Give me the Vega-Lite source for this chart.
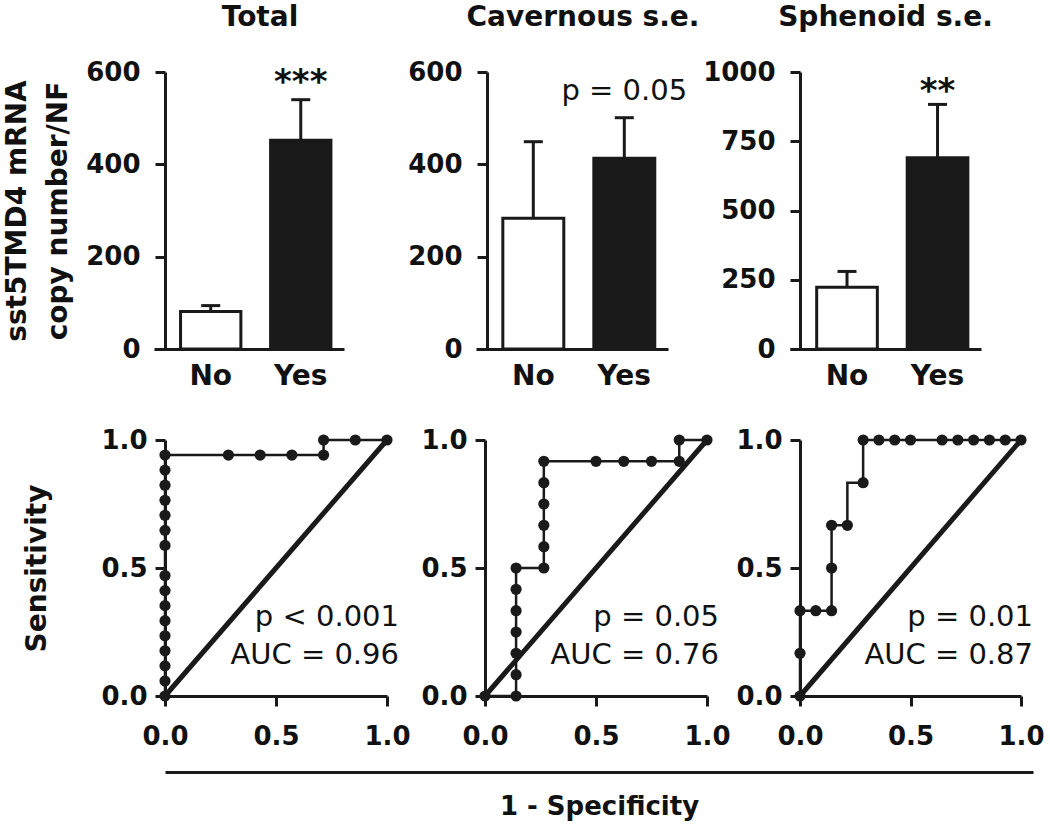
{
  "$schema": "https://vega.github.io/schema/vega-lite/v6.json",
  "padding": {"left": 3, "top": 4, "right": 5, "bottom": 5},
  "background": "white",
  "config": {
    "font": "DejaVu Sans",
    "view": {"stroke": null},
    "axis": {
      "grid": false,
      "labelFont": "DejaVu Sans",
      "labelFontWeight": "bold",
      "labelFontSize": 26,
      "labelColor": "#111111",
      "labelFlush": false,
      "labelOverlap": false,
      "titleFont": "DejaVu Sans",
      "titleFontWeight": "bold",
      "titleFontSize": 28,
      "titleColor": "#111111",
      "domainColor": "#1a1a1a",
      "domainWidth": 3,
      "tickColor": "#1a1a1a",
      "tickWidth": 3,
      "tickSize": 10
    }
  },
  "datasets": {
    "bars": [
      {"panel": "Total", "group": "No", "mean": 81, "upper": 94, "sig": ""},
      {"panel": "Total", "group": "Yes", "mean": 452, "upper": 540, "sig": "***"},
      {"panel": "Cavernous", "group": "No", "mean": 283, "upper": 449, "sig": ""},
      {"panel": "Cavernous", "group": "Yes", "mean": 413, "upper": 501, "sig": "p = 0.05"},
      {"panel": "Sphenoid", "group": "No", "mean": 223, "upper": 280, "sig": ""},
      {"panel": "Sphenoid", "group": "Yes", "mean": 690, "upper": 883, "sig": "**"}
    ],
    "diag": [{"fpr": 0, "sens": 0}, {"fpr": 1, "sens": 1}],
    "stats": [
      {"panel": "Total", "p": "p < 0.001", "auc": "AUC = 0.96"},
      {"panel": "Cavernous", "p": "p = 0.05", "auc": "AUC = 0.76"},
      {"panel": "Sphenoid", "p": "p = 0.01", "auc": "AUC = 0.87"}
    ],
    "roc": [
      {"panel": "Total", "ord": 0, "fpr": 0, "sens": 0, "pt": 1},
      {"panel": "Total", "ord": 1, "fpr": 0, "sens": 0.0588, "pt": 1},
      {"panel": "Total", "ord": 2, "fpr": 0, "sens": 0.1176, "pt": 1},
      {"panel": "Total", "ord": 3, "fpr": 0, "sens": 0.1765, "pt": 1},
      {"panel": "Total", "ord": 4, "fpr": 0, "sens": 0.2353, "pt": 1},
      {"panel": "Total", "ord": 5, "fpr": 0, "sens": 0.2941, "pt": 1},
      {"panel": "Total", "ord": 6, "fpr": 0, "sens": 0.3529, "pt": 1},
      {"panel": "Total", "ord": 7, "fpr": 0, "sens": 0.4118, "pt": 1},
      {"panel": "Total", "ord": 8, "fpr": 0, "sens": 0.4706, "pt": 1},
      {"panel": "Total", "ord": 9, "fpr": 0, "sens": 0.5882, "pt": 1},
      {"panel": "Total", "ord": 10, "fpr": 0, "sens": 0.6471, "pt": 1},
      {"panel": "Total", "ord": 11, "fpr": 0, "sens": 0.7059, "pt": 1},
      {"panel": "Total", "ord": 12, "fpr": 0, "sens": 0.7647, "pt": 1},
      {"panel": "Total", "ord": 13, "fpr": 0, "sens": 0.8235, "pt": 1},
      {"panel": "Total", "ord": 14, "fpr": 0, "sens": 0.8824, "pt": 1},
      {"panel": "Total", "ord": 15, "fpr": 0, "sens": 0.9412, "pt": 1},
      {"panel": "Total", "ord": 16, "fpr": 0.2857, "sens": 0.9412, "pt": 1},
      {"panel": "Total", "ord": 17, "fpr": 0.4286, "sens": 0.9412, "pt": 1},
      {"panel": "Total", "ord": 18, "fpr": 0.5714, "sens": 0.9412, "pt": 1},
      {"panel": "Total", "ord": 19, "fpr": 0.7143, "sens": 0.9412, "pt": 1},
      {"panel": "Total", "ord": 20, "fpr": 0.7143, "sens": 1, "pt": 1},
      {"panel": "Total", "ord": 21, "fpr": 0.8571, "sens": 1, "pt": 1},
      {"panel": "Total", "ord": 22, "fpr": 1, "sens": 1, "pt": 1},
      {"panel": "Cavernous", "ord": 0, "fpr": 0, "sens": 0, "pt": 1},
      {"panel": "Cavernous", "ord": 1, "fpr": 0.14, "sens": 0, "pt": 1},
      {"panel": "Cavernous", "ord": 2, "fpr": 0.14, "sens": 0.0833, "pt": 1},
      {"panel": "Cavernous", "ord": 3, "fpr": 0.14, "sens": 0.1667, "pt": 1},
      {"panel": "Cavernous", "ord": 4, "fpr": 0.14, "sens": 0.25, "pt": 1},
      {"panel": "Cavernous", "ord": 5, "fpr": 0.14, "sens": 0.3333, "pt": 1},
      {"panel": "Cavernous", "ord": 6, "fpr": 0.14, "sens": 0.4167, "pt": 1},
      {"panel": "Cavernous", "ord": 7, "fpr": 0.14, "sens": 0.5, "pt": 1},
      {"panel": "Cavernous", "ord": 8, "fpr": 0.265, "sens": 0.5, "pt": 1},
      {"panel": "Cavernous", "ord": 9, "fpr": 0.265, "sens": 0.5833, "pt": 1},
      {"panel": "Cavernous", "ord": 10, "fpr": 0.265, "sens": 0.6667, "pt": 1},
      {"panel": "Cavernous", "ord": 11, "fpr": 0.265, "sens": 0.75, "pt": 1},
      {"panel": "Cavernous", "ord": 12, "fpr": 0.265, "sens": 0.8333, "pt": 1},
      {"panel": "Cavernous", "ord": 13, "fpr": 0.265, "sens": 0.9167, "pt": 1},
      {"panel": "Cavernous", "ord": 14, "fpr": 0.5, "sens": 0.9167, "pt": 1},
      {"panel": "Cavernous", "ord": 15, "fpr": 0.625, "sens": 0.9167, "pt": 1},
      {"panel": "Cavernous", "ord": 16, "fpr": 0.75, "sens": 0.9167, "pt": 1},
      {"panel": "Cavernous", "ord": 17, "fpr": 0.875, "sens": 0.9167, "pt": 1},
      {"panel": "Cavernous", "ord": 18, "fpr": 0.875, "sens": 1, "pt": 1},
      {"panel": "Cavernous", "ord": 19, "fpr": 1, "sens": 1, "pt": 1},
      {"panel": "Sphenoid", "ord": 0, "fpr": 0, "sens": 0, "pt": 1},
      {"panel": "Sphenoid", "ord": 1, "fpr": 0, "sens": 0.1667, "pt": 1},
      {"panel": "Sphenoid", "ord": 2, "fpr": 0, "sens": 0.3333, "pt": 1},
      {"panel": "Sphenoid", "ord": 3, "fpr": 0.0714, "sens": 0.3333, "pt": 1},
      {"panel": "Sphenoid", "ord": 4, "fpr": 0.1429, "sens": 0.3333, "pt": 1},
      {"panel": "Sphenoid", "ord": 5, "fpr": 0.1429, "sens": 0.5, "pt": 1},
      {"panel": "Sphenoid", "ord": 6, "fpr": 0.1429, "sens": 0.6667, "pt": 1},
      {"panel": "Sphenoid", "ord": 7, "fpr": 0.2143, "sens": 0.6667, "pt": 1},
      {"panel": "Sphenoid", "ord": 8, "fpr": 0.2143, "sens": 0.8333, "pt": 0},
      {"panel": "Sphenoid", "ord": 9, "fpr": 0.2857, "sens": 0.8333, "pt": 1},
      {"panel": "Sphenoid", "ord": 10, "fpr": 0.2857, "sens": 1, "pt": 1},
      {"panel": "Sphenoid", "ord": 11, "fpr": 0.3571, "sens": 1, "pt": 1},
      {"panel": "Sphenoid", "ord": 12, "fpr": 0.4286, "sens": 1, "pt": 1},
      {"panel": "Sphenoid", "ord": 13, "fpr": 0.5, "sens": 1, "pt": 1},
      {"panel": "Sphenoid", "ord": 14, "fpr": 0.6429, "sens": 1, "pt": 1},
      {"panel": "Sphenoid", "ord": 15, "fpr": 0.7143, "sens": 1, "pt": 1},
      {"panel": "Sphenoid", "ord": 16, "fpr": 0.7857, "sens": 1, "pt": 1},
      {"panel": "Sphenoid", "ord": 17, "fpr": 0.8571, "sens": 1, "pt": 1},
      {"panel": "Sphenoid", "ord": 18, "fpr": 0.9286, "sens": 1, "pt": 1},
      {"panel": "Sphenoid", "ord": 19, "fpr": 1, "sens": 1, "pt": 1}
    ]
  },
  "columns": 3,
  "align": "each",
  "bounds": "flush",
  "spacing": {"row": 91, "column": 89},
  "concat": [
    {
      "width": 190, "height": 277,
      "title": {"text": "Total", "frame": "group", "anchor": "middle", "dx": 11, "offset": 5, "baseline": "alphabetic", "fontSize": 28, "fontWeight": "bold", "font": "DejaVu Sans", "color": "#111111"},
      "data": {"name": "bars"},
      "transform": [{"filter": "datum.panel === 'Total'"}],
      "encoding": {
        "x": {"field": "group", "type": "nominal", "sort": ["No", "Yes"], "scale": {"paddingInner": 0.33, "paddingOuter": 0.22, "align": 0.67}, "axis": {"title": null, "labelAngle": 0, "ticks": false, "tickSize": 0, "labelPadding": 13, "labelFontSize": 28}}
      },
      "layer": [
        {"mark": {"type": "bar", "stroke": "#1a1a1a", "strokeWidth": 3},
         "encoding": {
           "y": {"field": "mean", "type": "quantitative", "scale": {"domain": [0, 600]}, "axis": {"title": ["sst5TMD4 mRNA", "copy number/NF"], "values": [0, 200, 400, 600], "format": "d", "offset": -11, "labelPadding": 15, "titlePadding": 13, "titleLineHeight": 41, "encode": {"title": {"update": {"lineHeight": {"value": 41}}}}}},
           "fill": {"field": "group", "type": "nominal", "scale": {"domain": ["No", "Yes"], "range": ["#ffffff", "#1a1a1a"]}, "legend": null}}},
        {"mark": {"type": "rule", "strokeWidth": 3, "color": "#1a1a1a"},
         "encoding": {"y": {"field": "mean", "type": "quantitative"}, "y2": {"field": "upper"}}},
        {"mark": {"type": "tick", "size": 19, "thickness": 3, "color": "#1a1a1a", "opacity": 1},
         "encoding": {"y": {"field": "upper", "type": "quantitative"}}},
        {"transform": [{"filter": "datum.group === 'Yes'"}],
         "mark": {"type": "text", "fontSize": 34, "fontWeight": "bold", "baseline": "alphabetic", "align": "center", "color": "#111111"},
         "encoding": {"y": {"datum": 554}, "text": {"field": "sig"}}}
      ]
    },
    {
      "width": 192, "height": 277,
      "title": {"text": "Cavernous s.e.", "frame": "group", "anchor": "middle", "dx": 11, "offset": 5, "baseline": "alphabetic", "fontSize": 28, "fontWeight": "bold", "font": "DejaVu Sans", "color": "#111111"},
      "data": {"name": "bars"},
      "transform": [{"filter": "datum.panel === 'Cavernous'"}],
      "encoding": {
        "x": {"field": "group", "type": "nominal", "sort": ["No", "Yes"], "scale": {"paddingInner": 0.33, "paddingOuter": 0.22, "align": 0.67}, "axis": {"title": null, "labelAngle": 0, "ticks": false, "tickSize": 0, "labelPadding": 13, "labelFontSize": 28}}
      },
      "layer": [
        {"mark": {"type": "bar", "stroke": "#1a1a1a", "strokeWidth": 3},
         "encoding": {
           "y": {"field": "mean", "type": "quantitative", "scale": {"domain": [0, 600]}, "axis": {"title": null, "values": [0, 200, 400, 600], "format": "d", "offset": -11, "labelPadding": 15}},
           "fill": {"field": "group", "type": "nominal", "scale": {"domain": ["No", "Yes"], "range": ["#ffffff", "#1a1a1a"]}, "legend": null}}},
        {"mark": {"type": "rule", "strokeWidth": 3, "color": "#1a1a1a"},
         "encoding": {"y": {"field": "mean", "type": "quantitative"}, "y2": {"field": "upper"}}},
        {"mark": {"type": "tick", "size": 19, "thickness": 3, "color": "#1a1a1a", "opacity": 1},
         "encoding": {"y": {"field": "upper", "type": "quantitative"}}},
        {"transform": [{"filter": "datum.group === 'Yes'"}],
         "mark": {"type": "text", "fontSize": 29, "fontWeight": "normal", "baseline": "alphabetic", "align": "center", "color": "#111111"},
         "encoding": {"y": {"datum": 539}, "text": {"field": "sig"}}}
      ]
    },
    {
      "width": 191, "height": 277,
      "title": {"text": "Sphenoid s.e.", "frame": "group", "anchor": "middle", "dx": 0, "offset": 5, "baseline": "alphabetic", "fontSize": 28, "fontWeight": "bold", "font": "DejaVu Sans", "color": "#111111"},
      "data": {"name": "bars"},
      "transform": [{"filter": "datum.panel === 'Sphenoid'"}],
      "encoding": {
        "x": {"field": "group", "type": "nominal", "sort": ["No", "Yes"], "scale": {"paddingInner": 0.33, "paddingOuter": 0.22, "align": 0.67}, "axis": {"title": null, "labelAngle": 0, "ticks": false, "tickSize": 0, "labelPadding": 13, "labelFontSize": 28}}
      },
      "layer": [
        {"mark": {"type": "bar", "stroke": "#1a1a1a", "strokeWidth": 3},
         "encoding": {
           "y": {"field": "mean", "type": "quantitative", "scale": {"domain": [0, 1000]}, "axis": {"title": null, "values": [0, 250, 500, 750, 1000], "format": "d", "offset": -10, "labelPadding": 15}},
           "fill": {"field": "group", "type": "nominal", "scale": {"domain": ["No", "Yes"], "range": ["#ffffff", "#1a1a1a"]}, "legend": null}}},
        {"mark": {"type": "rule", "strokeWidth": 3, "color": "#1a1a1a"},
         "encoding": {"y": {"field": "mean", "type": "quantitative"}, "y2": {"field": "upper"}}},
        {"mark": {"type": "tick", "size": 19, "thickness": 3, "color": "#1a1a1a", "opacity": 1},
         "encoding": {"y": {"field": "upper", "type": "quantitative"}}},
        {"transform": [{"filter": "datum.group === 'Yes'"}],
         "mark": {"type": "text", "fontSize": 34, "fontWeight": "bold", "baseline": "alphabetic", "align": "center", "color": "#111111"},
         "encoding": {"y": {"datum": 890}, "text": {"field": "sig"}}}
      ]
    },
    {
      "width": 233, "height": 256,
      "layer": [
        {"data": {"name": "diag"}, "mark": {"type": "line", "strokeWidth": 5, "color": "#1a1a1a"},
         "encoding": {
           "x": {"field": "fpr", "type": "quantitative", "scale": {"domain": [0, 1], "range": [11, 233]}, "axis": {"title": null, "values": [0, 0.5, 1], "format": ".1f", "labelPadding": 17}},
           "y": {"field": "sens", "type": "quantitative", "scale": {"domain": [0, 1]}, "axis": {"title": "Sensitivity", "values": [0, 0.5, 1], "format": ".1f", "offset": -11, "labelPadding": 8, "titlePadding": 49}}}},
        {"data": {"name": "roc"}, "transform": [{"filter": "datum.panel === 'Total'"}],
         "mark": {"type": "line", "strokeWidth": 2.5, "color": "#1a1a1a"},
         "encoding": {"x": {"field": "fpr", "type": "quantitative"}, "y": {"field": "sens", "type": "quantitative"}, "order": {"field": "ord"}}},
        {"data": {"name": "roc"}, "transform": [{"filter": "datum.panel === 'Total' && datum.pt === 1"}],
         "mark": {"type": "point", "filled": true, "size": 125, "color": "#1a1a1a", "opacity": 1},
         "encoding": {"x": {"field": "fpr", "type": "quantitative"}, "y": {"field": "sens", "type": "quantitative"}}},
        {"data": {"name": "stats"}, "transform": [{"filter": "datum.panel === 'Total'"}],
         "mark": {"type": "text", "align": "right", "baseline": "alphabetic", "fontSize": 29, "dx": 12, "color": "#111111"},
         "encoding": {"x": {"datum": 1}, "y": {"datum": 0.273}, "text": {"field": "p"}}},
        {"data": {"name": "stats"}, "transform": [{"filter": "datum.panel === 'Total'"}],
         "mark": {"type": "text", "align": "right", "baseline": "alphabetic", "fontSize": 29, "dx": 12, "color": "#111111"},
         "encoding": {"x": {"datum": 1}, "y": {"datum": 0.125}, "text": {"field": "auc"}}}
      ]
    },
    {
      "width": 225, "height": 256,
      "resolve": {"scale": {"x": "independent"}, "axis": {"x": "independent"}},
      "layer": [
        {
          "layer": [
            {"data": {"name": "diag"}, "mark": {"type": "line", "strokeWidth": 5, "color": "#1a1a1a"},
             "encoding": {
               "x": {"field": "fpr", "type": "quantitative", "scale": {"domain": [0, 1], "range": [9, 231]}, "axis": {"title": null, "values": [0, 0.5, 1], "format": ".1f", "labelPadding": 17}},
               "y": {"field": "sens", "type": "quantitative", "scale": {"domain": [0, 1]}, "axis": {"title": null, "values": [0, 0.5, 1], "format": ".1f", "offset": -9, "labelPadding": 8}}}},
            {"data": {"name": "roc"}, "transform": [{"filter": "datum.panel === 'Cavernous'"}],
             "mark": {"type": "line", "strokeWidth": 2.5, "color": "#1a1a1a"},
             "encoding": {"x": {"field": "fpr", "type": "quantitative"}, "y": {"field": "sens", "type": "quantitative"}, "order": {"field": "ord"}}},
            {"data": {"name": "roc"}, "transform": [{"filter": "datum.panel === 'Cavernous' && datum.pt === 1"}],
             "mark": {"type": "point", "filled": true, "size": 125, "color": "#1a1a1a", "opacity": 1},
             "encoding": {"x": {"field": "fpr", "type": "quantitative"}, "y": {"field": "sens", "type": "quantitative"}}},
            {"data": {"name": "stats"}, "transform": [{"filter": "datum.panel === 'Cavernous'"}],
             "mark": {"type": "text", "align": "right", "baseline": "alphabetic", "fontSize": 29, "dx": 12, "color": "#111111"},
             "encoding": {"x": {"datum": 1}, "y": {"datum": 0.273}, "text": {"field": "p"}}},
            {"data": {"name": "stats"}, "transform": [{"filter": "datum.panel === 'Cavernous'"}],
             "mark": {"type": "text", "align": "right", "baseline": "alphabetic", "fontSize": 29, "dx": 12, "color": "#111111"},
             "encoding": {"x": {"datum": 1}, "y": {"datum": 0.125}, "text": {"field": "auc"}}}
          ]
        },
        {"data": {"name": "diag"}, "mark": {"type": "point", "opacity": 0},
         "encoding": {"x": {"field": "fpr", "type": "quantitative", "scale": {"domain": [0, 1], "range": [-311, 557]}, "axis": {"orient": "bottom", "offset": 76, "title": "1 - Specificity", "ticks": false, "labels": false, "domainWidth": 3, "titlePadding": 21, "titleFontSize": 26}}}}
      ]
    },
    {
      "width": 233, "height": 256,
      "layer": [
        {"data": {"name": "diag"}, "mark": {"type": "line", "strokeWidth": 5, "color": "#1a1a1a"},
         "encoding": {
           "x": {"field": "fpr", "type": "quantitative", "scale": {"domain": [0, 1], "range": [10, 231]}, "axis": {"title": null, "values": [0, 0.5, 1], "format": ".1f", "labelPadding": 17}},
           "y": {"field": "sens", "type": "quantitative", "scale": {"domain": [0, 1]}, "axis": {"title": null, "values": [0, 0.5, 1], "format": ".1f", "offset": -10, "labelPadding": 8}}}},
        {"data": {"name": "roc"}, "transform": [{"filter": "datum.panel === 'Sphenoid'"}],
         "mark": {"type": "line", "strokeWidth": 2.5, "color": "#1a1a1a"},
         "encoding": {"x": {"field": "fpr", "type": "quantitative"}, "y": {"field": "sens", "type": "quantitative"}, "order": {"field": "ord"}}},
        {"data": {"name": "roc"}, "transform": [{"filter": "datum.panel === 'Sphenoid' && datum.pt === 1"}],
         "mark": {"type": "point", "filled": true, "size": 125, "color": "#1a1a1a", "opacity": 1},
         "encoding": {"x": {"field": "fpr", "type": "quantitative"}, "y": {"field": "sens", "type": "quantitative"}}},
        {"data": {"name": "stats"}, "transform": [{"filter": "datum.panel === 'Sphenoid'"}],
         "mark": {"type": "text", "align": "right", "baseline": "alphabetic", "fontSize": 29, "dx": 12, "color": "#111111"},
         "encoding": {"x": {"datum": 1}, "y": {"datum": 0.273}, "text": {"field": "p"}}},
        {"data": {"name": "stats"}, "transform": [{"filter": "datum.panel === 'Sphenoid'"}],
         "mark": {"type": "text", "align": "right", "baseline": "alphabetic", "fontSize": 29, "dx": 12, "color": "#111111"},
         "encoding": {"x": {"datum": 1}, "y": {"datum": 0.125}, "text": {"field": "auc"}}}
      ]
    }
  ]
}
